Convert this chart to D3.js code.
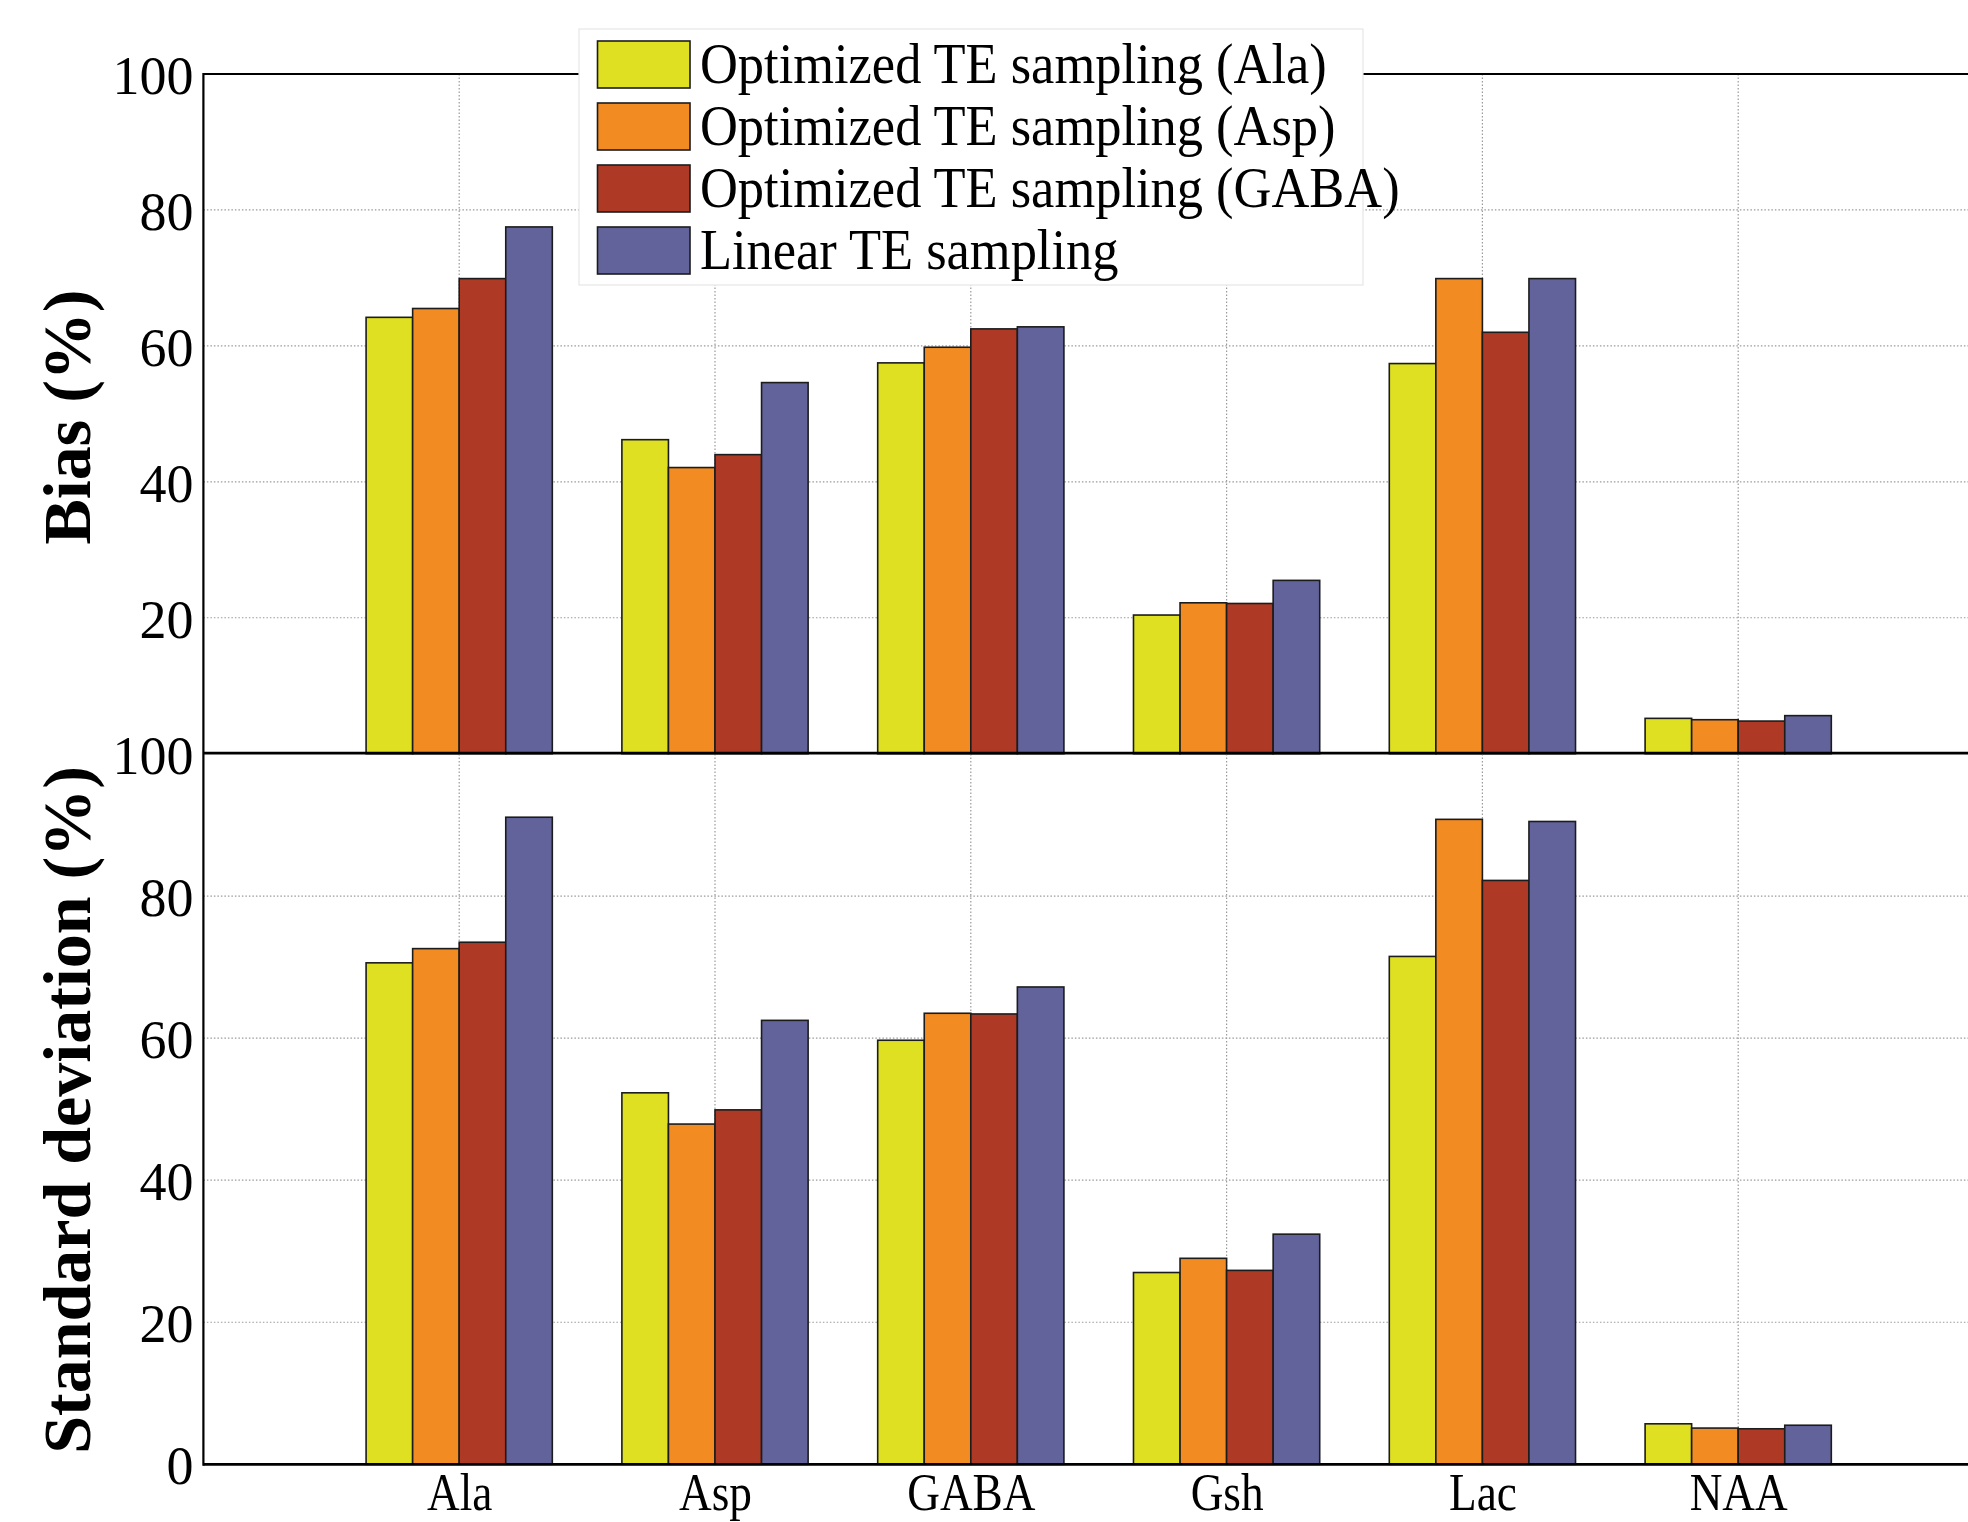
<!DOCTYPE html>
<html>
<head>
<meta charset="utf-8">
<script src="https://cdn.jsdelivr.net/npm/d3@7"></script>
<style>
  html, body { margin: 0; padding: 0; background: #ffffff; }
  svg { display: block; }
</style>
</head>
<body>
<svg id="chart" width="1968" height="1522"></svg>
<script>
// Metabolites on the x axis
const categories = ["Ala", "Asp", "GABA", "Gsh", "Lac", "NAA"];

// Sampling schemes (legend order)
const seriesNames = [
  "Optimized TE sampling (Ala)",
  "Optimized TE sampling (Asp)",
  "Optimized TE sampling (GABA)",
  "Linear TE sampling"
];
const seriesColors = ["#dee021", "#f28b22", "#ae3a25", "#62639b"];

// Bias (%) per metabolite
const biasAla    = [64.2, 46.2, 57.5, 20.4, 57.4, 5.2];
const biasAsp    = [65.5, 42.1, 59.8, 22.2, 69.9, 5.0];
const biasGaba   = [69.9, 44.0, 62.5, 22.1, 62.0, 4.8];
const biasLinear = [77.5, 54.6, 62.8, 25.5, 69.9, 5.6];

// Standard deviation (%) per metabolite
const sdAla    = [70.6, 52.3, 59.7, 27.0, 71.5, 5.7];
const sdAsp    = [72.6, 47.9, 63.5, 29.0, 90.8, 5.1];
const sdGaba   = [73.5, 49.9, 63.4, 27.3, 82.2, 5.0];
const sdLinear = [91.1, 62.5, 67.2, 32.4, 90.5, 5.5];

// Tick values
const biasTicks = [20, 40, 60, 80, 100];
const sdTicks = [0, 20, 40, 60, 80, 100];
const gridTicks = [20, 40, 60, 80];

const biasSeries = [biasAla, biasAsp, biasGaba, biasLinear];
const sdSeries = [sdAla, sdAsp, sdGaba, sdLinear];

const svg = d3.select("#chart");
const serif = "'Liberation Serif', 'Times New Roman', serif";

// Shared x scale: groups sit at 1..6 on a 0..7 axis that runs past the right edge
const x = d3.scaleLinear().domain([0, 7]).range([203.4, 203.4 + 7 * 255.8]);
const barW = 0.182; // width of one bar in x units

const yTop = d3.scaleLinear().domain([0, 100]).range([753.7, 74]);
const yBot = d3.scaleLinear().domain([0, 100]).range([1464.3, 754]);

const xLeft = x(0), xRight = 1968;

function drawPanel(yScale, seriesData, ticks) {
  const g = svg.append("g");

  // dotted grid
  g.selectAll("line.hgrid").data(gridTicks).join("line")
    .attr("x1", xLeft).attr("x2", xRight)
    .attr("y1", d => yScale(d)).attr("y2", d => yScale(d))
    .attr("stroke", "#9a9a9a").attr("stroke-width", 1.2)
    .attr("stroke-dasharray", "1.5,2");
  g.selectAll("line.vgrid").data(d3.range(1, categories.length + 1)).join("line")
    .attr("x1", d => x(d)).attr("x2", d => x(d))
    .attr("y1", yScale(100)).attr("y2", yScale(0))
    .attr("stroke", "#9a9a9a").attr("stroke-width", 1.2)
    .attr("stroke-dasharray", "1.5,2");

  // grouped bars
  seriesData.forEach((vals, j) => {
    g.append("g").selectAll("rect").data(vals).join("rect")
      .attr("x", (v, i) => x(i + 1 - 2 * barW + j * barW))
      .attr("width", x(barW) - x(0))
      .attr("y", v => yScale(v))
      .attr("height", v => yScale(0) - yScale(v))
      .attr("fill", seriesColors[j])
      .attr("stroke", "#1c1c1c")
      .attr("stroke-width", 1.6);
  });

  // y tick labels
  const axis = d3.axisLeft(yScale).tickValues(ticks).tickSize(0).tickPadding(10)
    .tickFormat(d3.format("d"));
  const ag = svg.append("g").attr("transform", `translate(${xLeft},0)`).call(axis);
  ag.select(".domain").remove();
  ag.selectAll("text")
    .attr("font-family", serif).attr("font-size", 54)
    .attr("fill", "#000").attr("dy", "0.36em");
}

drawPanel(yTop, biasSeries, biasTicks);
drawPanel(yBot, sdSeries, sdTicks);

// axis frame lines
svg.append("line").attr("x1", xLeft).attr("x2", xRight)
  .attr("y1", yTop(100)).attr("y2", yTop(100))
  .attr("stroke", "#000").attr("stroke-width", 2.2);
svg.append("line").attr("x1", xLeft).attr("x2", xRight)
  .attr("y1", yTop(0) - 0.5).attr("y2", yTop(0) - 0.5)
  .attr("stroke", "#000").attr("stroke-width", 2.8);
svg.append("line").attr("x1", xLeft).attr("x2", xRight)
  .attr("y1", yBot(0)).attr("y2", yBot(0))
  .attr("stroke", "#000").attr("stroke-width", 2.8);
svg.append("line").attr("x1", xLeft).attr("x2", xLeft)
  .attr("y1", yTop(100) - 1).attr("y2", yBot(0) + 1.4)
  .attr("stroke", "#000").attr("stroke-width", 2.2);

// category labels
const xAxis = d3.axisBottom(x).tickValues(d3.range(1, categories.length + 1))
  .tickSize(0).tickPadding(9).tickFormat(d => categories[d - 1]);
const xg = svg.append("g").attr("transform", `translate(0,${yBot(0)})`).call(xAxis);
xg.select(".domain").remove();
xg.selectAll("text")
  .attr("font-family", serif).attr("font-size", 52).attr("fill", "#000")
  .each(function () {
    const t = d3.select(this);
    const w = this.getComputedTextLength();
    t.attr("textLength", w * 0.87).attr("lengthAdjust", "spacingAndGlyphs");
  });

// y titles
function yTitle(text, cy) {
  svg.append("text")
    .attr("transform", `translate(90,${cy}) rotate(-90)`)
    .attr("text-anchor", "middle")
    .attr("font-family", serif).attr("font-weight", "bold")
    .attr("font-size", 68).attr("fill", "#000")
    .text(text);
}
yTitle("Bias (%)", 417);
yTitle("Standard deviation (%)", 1110);

// legend
const legend = svg.append("g");
legend.append("rect")
  .attr("x", 579).attr("y", 29).attr("width", 784).attr("height", 256)
  .attr("fill", "#ffffff").attr("stroke", "#e6e6e6").attr("stroke-width", 1.2);
const rowStep = 62;
seriesNames.forEach((name, j) => {
  const top = 41 + j * rowStep;
  legend.append("rect")
    .attr("x", 597.5).attr("y", top).attr("width", 92.5).attr("height", 47)
    .attr("fill", seriesColors[j]).attr("stroke", "#1c1c1c").attr("stroke-width", 1.6);
  const t = legend.append("text")
    .attr("x", 700).attr("y", top + 42)
    .attr("font-family", serif).attr("font-size", 57).attr("fill", "#000")
    .text(name);
  const w = t.node().getComputedTextLength();
  t.attr("textLength", w * 0.92).attr("lengthAdjust", "spacingAndGlyphs");
});
</script>
</body>
</html>
